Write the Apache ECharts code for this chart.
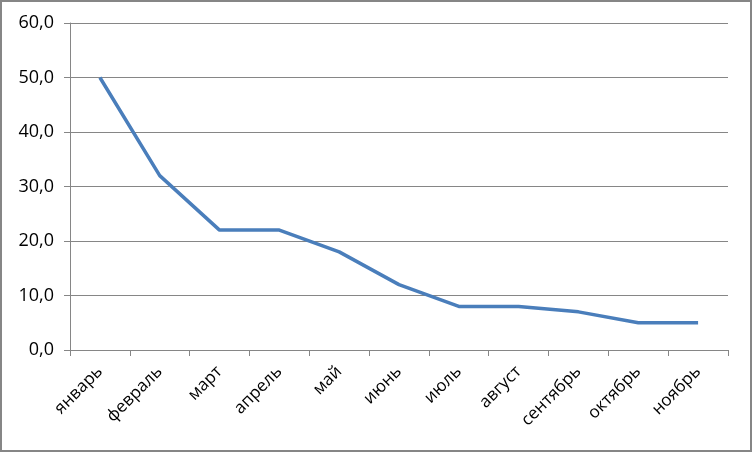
<!DOCTYPE html>
<html><head><meta charset="utf-8">
<script src="https://cdn.jsdelivr.net/npm/echarts@6/dist/echarts.min.js"></script>
<style>html,body{margin:0;padding:0;background:#fff}#c{width:752px;height:452px;box-sizing:border-box;border:2px solid #868686;}</style>
</head><body><div id="c"></div>
<script>
const categories = ['январь','февраль','март','апрель','май','июнь','июль','август','сентябрь','октябрь','ноябрь'];
const values = [50, 32, 22, 22, 18, 12, 8, 8, 7, 5, 5];
const yMin = 0, yMax = 60, yStep = 10;
const chart = echarts.init(document.getElementById('c'), null, {renderer:'canvas'});
chart.setOption({
  animation:false,
  grid:{left:68, right:22, top:21, bottom:100},
  xAxis:{type:'category', data:categories, boundaryGap:true,
    axisLine:{lineStyle:{color:'#868686', width:1}},
    axisTick:{show:true, length:6, lineStyle:{color:'#868686'}},
    axisLabel:{rotate:45, color:'#000', fontSize:17, fontFamily:'Open Sans', margin:19, interval:0}},
  yAxis:{type:'value', min:yMin, max:yMax, interval:yStep,
    axisLine:{show:true, lineStyle:{color:'#868686'}},
    axisTick:{show:true, length:6, lineStyle:{color:'#868686'}},
    splitLine:{lineStyle:{color:'#868686'}},
    axisLabel:{color:'#000', fontSize:18, fontFamily:'Open Sans', margin:16,
      formatter:v=>v.toFixed(1).replace('.',',')}},
  series:[{type:'line', data:values, symbol:'none', lineStyle:{color:'#4a7ebb', width:3.5}}]
});
</script></body></html>
